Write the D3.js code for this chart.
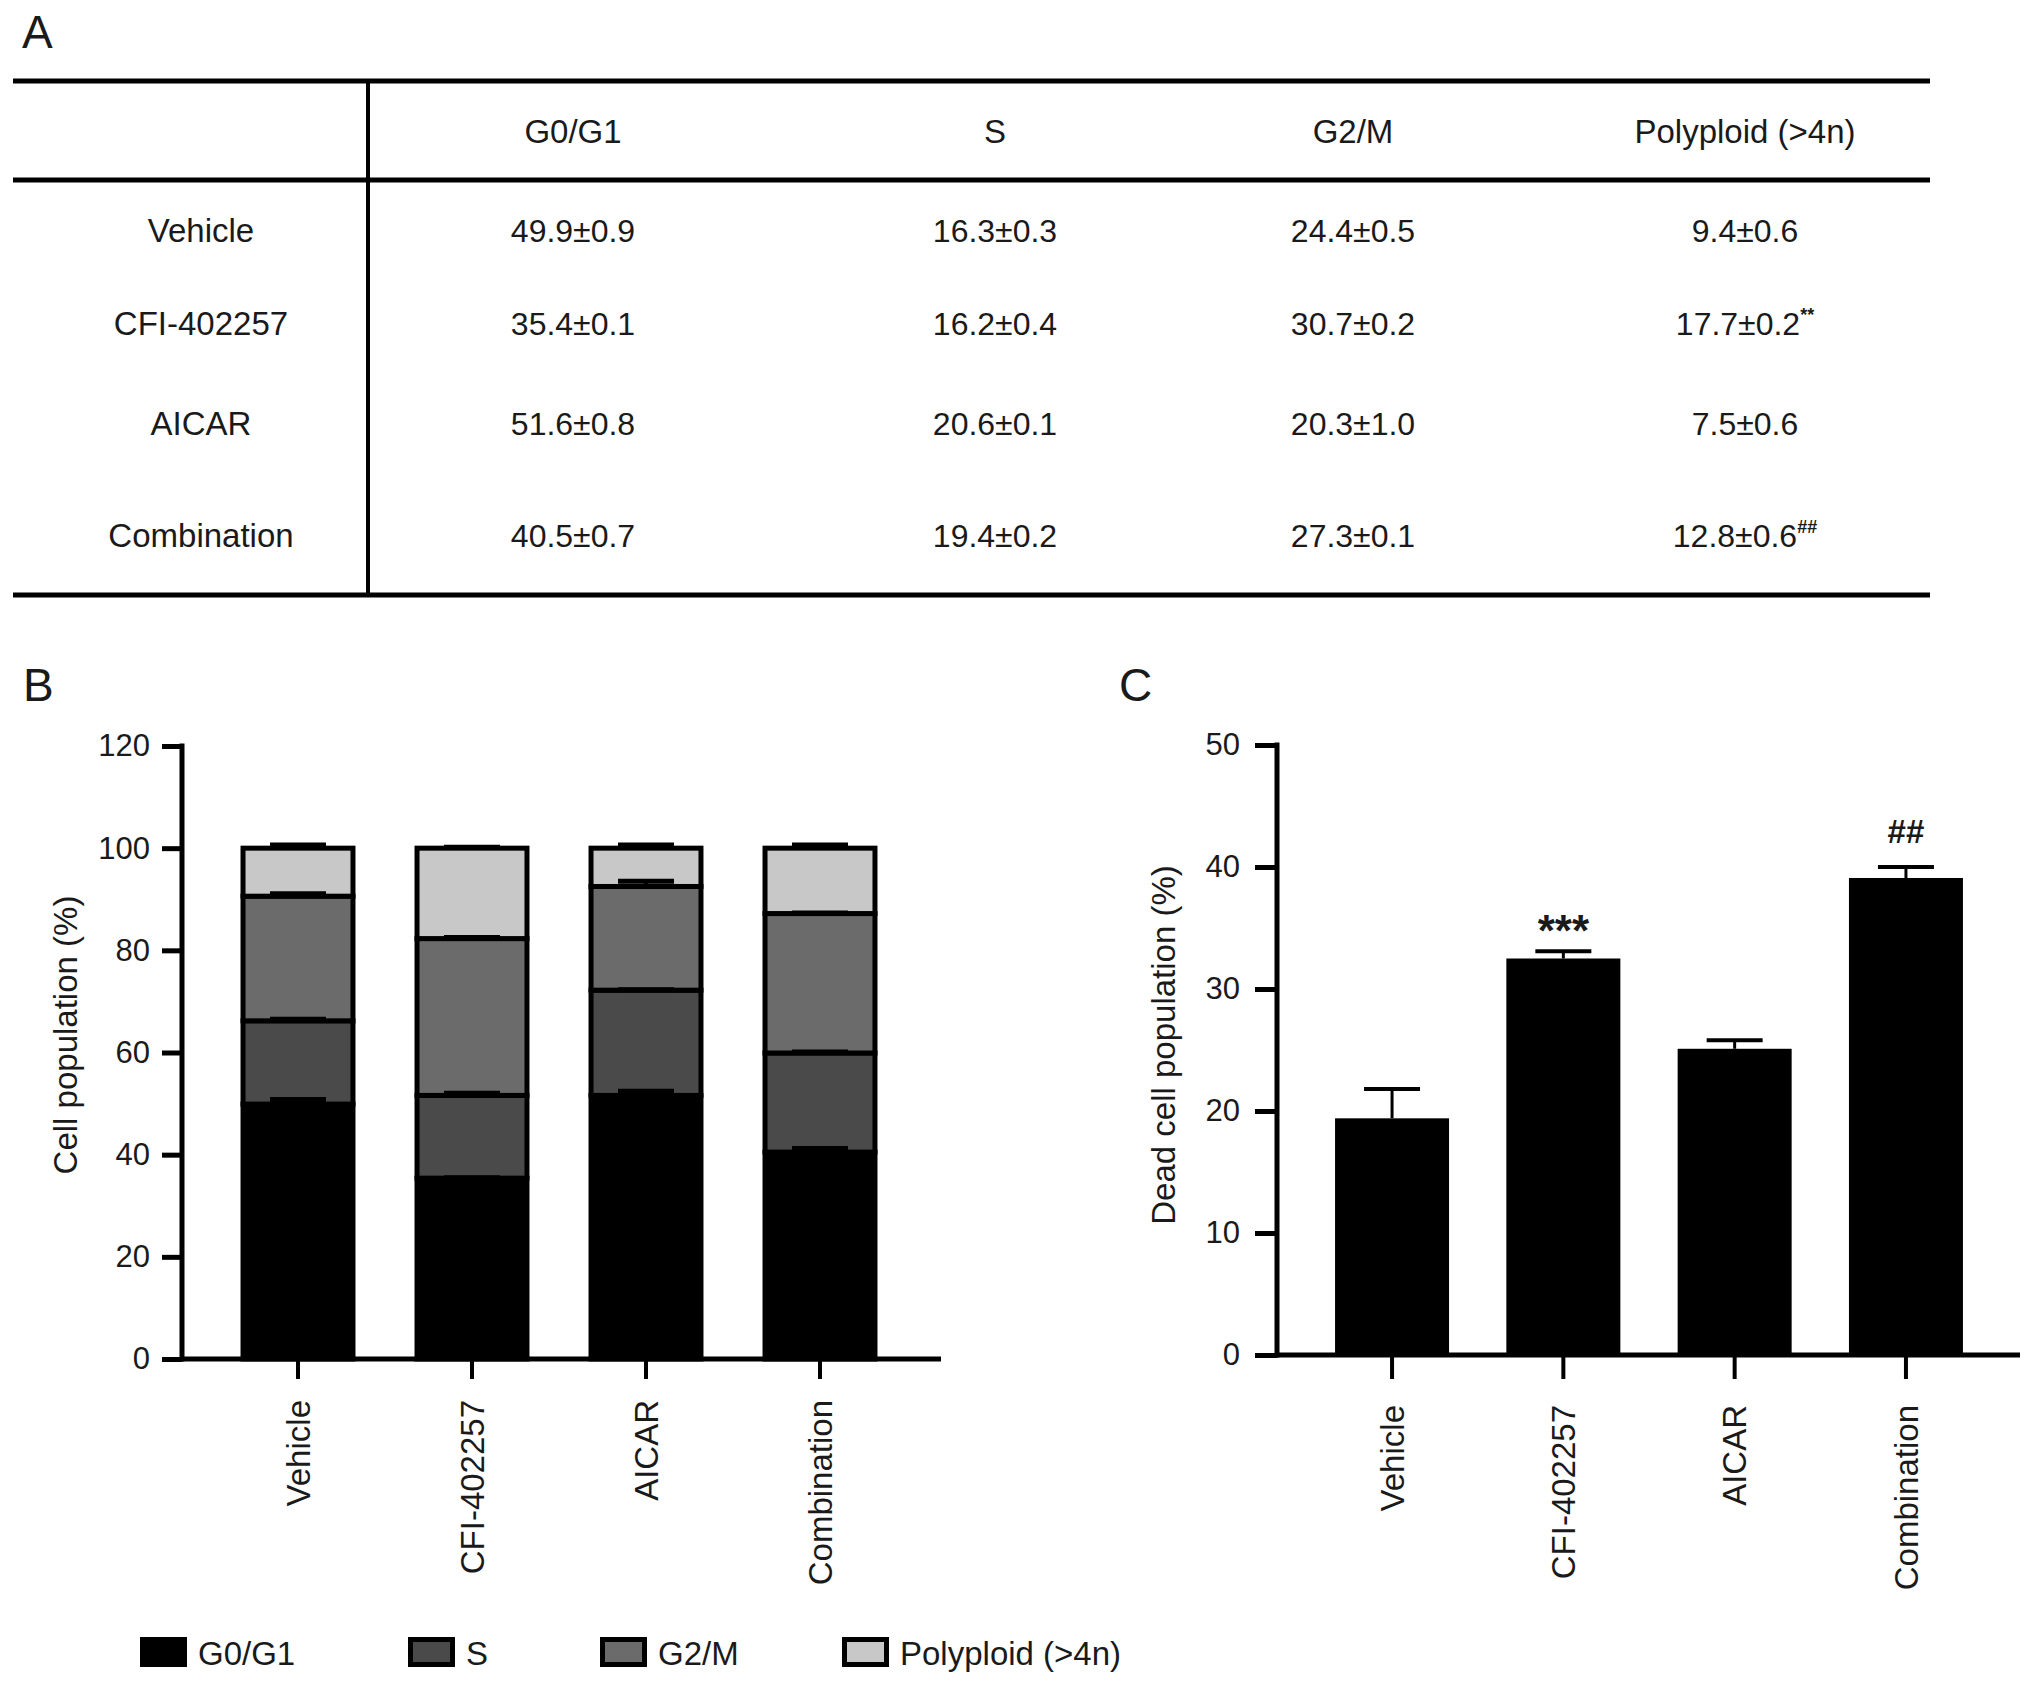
<!DOCTYPE html>
<html>
<head>
<meta charset="utf-8">
<script src="https://cdn.jsdelivr.net/npm/d3@7"></script>
<style>
  body { margin: 0; background: #fff; }
  text { font-family: "Liberation Sans", Arial, Helvetica, sans-serif; fill: #1a1a1a; }
</style>
</head>
<body>
<script>
// data
const groups = ["Vehicle", "CFI-402257", "AICAR", "Combination"];
const phases = ["G0/G1", "S", "G2/M", "Polyploid (>4n)"];

const g0g1Mean = [49.9, 35.4, 51.6, 40.5];
const g0g1Sd = [0.9, 0.1, 0.8, 0.7];
const sMean = [16.3, 16.2, 20.6, 19.4];
const sSd = [0.3, 0.4, 0.1, 0.2];
const g2mMean = [24.4, 30.7, 20.3, 27.3];
const g2mSd = [0.5, 0.2, 1.0, 0.1];
const polyMean = [9.4, 17.7, 7.5, 12.8];
const polySd = [0.6, 0.2, 0.6, 0.6];
const polyMarks = ["", "**", "", "##"];

const deadMean = [19.4, 32.5, 25.1, 39.1];
const deadErr = [2.4, 0.6, 0.7, 0.9];
const deadMarks = ["", "***", "", "##"];

const yTicksB = [0, 20, 40, 60, 80, 100, 120];
const yTicksC = [0, 10, 20, 30, 40, 50];

// layout
const W = 2032, H = 1682;
const FONT = 33;
const phaseColor = d3.scaleOrdinal().domain(phases).range(["#000000", "#4a4a4a", "#6b6b6b", "#c8c8c8"]);

const svg = d3.select("body").append("svg").attr("width", W).attr("height", H);

// panel letters
svg.append("text").attr("x", 22).attr("y", 48).style("font-size", "46px").text("A");
svg.append("text").attr("x", 23).attr("y", 701).style("font-size", "46px").text("B");
svg.append("text").attr("x", 1119).attr("y", 701).style("font-size", "46px").text("C");

// ---------- A: table ----------
const tab = svg.append("g");
const tLeft = 13, tRight = 1930, tDiv = 368;
const lineY = [81, 180, 595];
const colX = [573, 995, 1353, 1745];
const headY = 143;
const rowY = [242, 335, 435, 547];

lineY.forEach(y => {
  tab.append("line").attr("x1", tLeft).attr("x2", tRight).attr("y1", y).attr("y2", y)
    .attr("stroke", "#000").attr("stroke-width", 5);
});
tab.append("line").attr("x1", tDiv).attr("x2", tDiv).attr("y1", lineY[0]).attr("y2", lineY[2])
  .attr("stroke", "#000").attr("stroke-width", 4);

tab.selectAll(".head").data(phases).join("text")
  .attr("x", (d, i) => colX[i]).attr("y", headY)
  .attr("text-anchor", "middle").style("font-size", FONT + "px").text(d => d);

tab.selectAll(".rowlab").data(groups).join("text")
  .attr("x", 201).attr("y", (d, i) => rowY[i])
  .attr("text-anchor", "middle").style("font-size", FONT + "px").text(d => d);

const cellMeans = [g0g1Mean, sMean, g2mMean, polyMean];
const cellSds = [g0g1Sd, sSd, g2mSd, polySd];
groups.forEach((g, r) => {
  phases.forEach((p, c) => {
    const t = tab.append("text")
      .attr("x", colX[c]).attr("y", rowY[r])
      .attr("text-anchor", "middle").style("font-size", "32px");
    t.append("tspan").text(cellMeans[c][r].toFixed(1) + "±" + cellSds[c][r].toFixed(1));
    if (c === 3 && polyMarks[r]) {
      t.append("tspan").attr("dy", -14).style("font-size", "18px").style("font-weight", "bold")
        .text(polyMarks[r]);
    }
  });
});

// ---------- B: stacked bars ----------
const stackRows = groups.map((g, i) => ({
  group: g,
  "G0/G1": g0g1Mean[i], "S": sMean[i], "G2/M": g2mMean[i], "Polyploid (>4n)": polyMean[i]
}));
const sdByPhase = { "G0/G1": g0g1Sd, "S": sSd, "G2/M": g2mSd, "Polyploid (>4n)": polySd };
const series = d3.stack().keys(phases)(stackRows);

const xB = d3.scaleBand().domain(groups).range([211, 907]).paddingInner(0.368).paddingOuter(0.184);
const yB = d3.scaleLinear().domain([0, 120]).range([1359, 746]);
const axXB = 182;

const gB = svg.append("g");

gB.selectAll(".seg").data(series).join("g")
  .attr("fill", d => phaseColor(d.key))
  .selectAll("rect").data(d => d).join("rect")
  .attr("x", d => xB(d.data.group))
  .attr("width", xB.bandwidth())
  .attr("y", d => yB(d[1]))
  .attr("height", d => yB(d[0]) - yB(d[1]))
  .attr("stroke", "#000").attr("stroke-width", 5);

// error bars (upper only)
series.forEach(s => {
  s.forEach((d, i) => {
    const cx = xB(d.data.group) + xB.bandwidth() / 2;
    const top = d[1] + sdByPhase[s.key][i];
    gB.append("line").attr("x1", cx).attr("x2", cx).attr("y1", yB(d[1])).attr("y2", yB(top))
      .attr("stroke", "#000").attr("stroke-width", 4);
    gB.append("line").attr("x1", cx - 28).attr("x2", cx + 28).attr("y1", yB(top)).attr("y2", yB(top))
      .attr("stroke", "#000").attr("stroke-width", 5);
  });
});

// axes B
const yAxisB = gB.append("g").attr("transform", `translate(${axXB},0)`)
  .call(d3.axisLeft(yB).tickValues(yTicksB).tickSize(20).tickPadding(12).tickSizeOuter(0));
yAxisB.select(".domain").remove();
yAxisB.selectAll(".tick line").attr("stroke-width", 5);
yAxisB.selectAll("text").style("font-size", "31px").attr("fill", "#1a1a1a");
gB.append("line").attr("x1", axXB).attr("x2", axXB).attr("y1", yB(120) - 2.5).attr("y2", yB(0) + 2.5)
  .attr("stroke", "#000").attr("stroke-width", 5);

const xAxisB = gB.append("g").attr("transform", `translate(0,${yB(0)})`)
  .call(d3.axisBottom(xB).tickSize(20).tickSizeOuter(0));
xAxisB.select(".domain").remove();
xAxisB.selectAll(".tick line").attr("stroke-width", 4);
xAxisB.selectAll("text")
  .attr("transform", "rotate(-90)").attr("x", -41).attr("y", 0).attr("dy", "0.35em")
  .style("text-anchor", "end").style("font-size", "33px").attr("fill", "#1a1a1a");
gB.append("line").attr("x1", axXB).attr("x2", 941).attr("y1", yB(0)).attr("y2", yB(0))
  .attr("stroke", "#000").attr("stroke-width", 5);

gB.append("text")
  .attr("transform", `translate(65,1035) rotate(-90)`)
  .attr("text-anchor", "middle").attr("dy", "0.35em")
  .style("font-size", "33px").text("Cell population (%)");

// ---------- C: dead cells ----------
const xC = d3.scaleBand().domain(groups).range([1306.4, 1991.6]).paddingInner(0.3345).paddingOuter(0.16725);
const yC = d3.scaleLinear().domain([0, 50]).range([1355, 745]);
const axXC = 1277;
const gC = svg.append("g");

gC.selectAll(".bar").data(groups).join("rect")
  .attr("x", d => xC(d)).attr("width", xC.bandwidth())
  .attr("y", (d, i) => yC(deadMean[i]))
  .attr("height", (d, i) => yC(0) - yC(deadMean[i]))
  .attr("fill", "#000");

groups.forEach((g, i) => {
  const cx = xC(g) + xC.bandwidth() / 2;
  const top = deadMean[i] + deadErr[i];
  gC.append("line").attr("x1", cx).attr("x2", cx).attr("y1", yC(deadMean[i])).attr("y2", yC(top))
    .attr("stroke", "#000").attr("stroke-width", 3);
  gC.append("line").attr("x1", cx - 28).attr("x2", cx + 28).attr("y1", yC(top)).attr("y2", yC(top))
    .attr("stroke", "#000").attr("stroke-width", 4);
  const m = deadMarks[i];
  if (m) {
    const star = m.includes("*");
    gC.append("text").attr("x", cx).attr("y", yC(top) - (star ? 5 : 24))
      .attr("text-anchor", "middle")
      .style("font-size", star ? "44px" : "33px").style("font-weight", "bold")
      .text(m);
  }
});

const yAxisC = gC.append("g").attr("transform", `translate(${axXC},0)`)
  .call(d3.axisLeft(yC).tickValues(yTicksC).tickSize(22).tickPadding(15).tickSizeOuter(0));
yAxisC.select(".domain").remove();
yAxisC.selectAll(".tick line").attr("stroke-width", 5);
yAxisC.selectAll("text").style("font-size", "31px").attr("fill", "#1a1a1a");
gC.append("line").attr("x1", axXC).attr("x2", axXC).attr("y1", yC(50) - 2.5).attr("y2", yC(0) + 2.5)
  .attr("stroke", "#000").attr("stroke-width", 5);

const xAxisC = gC.append("g").attr("transform", `translate(0,${yC(0)})`)
  .call(d3.axisBottom(xC).tickSize(24).tickSizeOuter(0));
xAxisC.select(".domain").remove();
xAxisC.selectAll(".tick line").attr("stroke-width", 4);
xAxisC.selectAll("text")
  .attr("transform", "rotate(-90)").attr("x", -50).attr("y", 0).attr("dy", "0.35em")
  .style("text-anchor", "end").style("font-size", "33px").attr("fill", "#1a1a1a");
gC.append("line").attr("x1", axXC).attr("x2", 2020).attr("y1", yC(0)).attr("y2", yC(0))
  .attr("stroke", "#000").attr("stroke-width", 5);

gC.append("text")
  .attr("transform", `translate(1163,1045) rotate(-90)`)
  .attr("text-anchor", "middle").attr("dy", "0.35em")
  .style("font-size", "33px").text("Dead cell population (%)");

// ---------- legend ----------
const legX = [140, 408, 600, 842];
const leg = svg.append("g");
phases.forEach((p, i) => {
  leg.append("rect")
    .attr("x", legX[i] + 2.5).attr("y", 1639.5).attr("width", 42).attr("height", 25)
    .attr("fill", phaseColor(p)).attr("stroke", "#000").attr("stroke-width", 5);
  leg.append("text").attr("x", legX[i] + 58).attr("y", 1665)
    .style("font-size", FONT + "px").text(p);
});
</script>
</body>
</html>
